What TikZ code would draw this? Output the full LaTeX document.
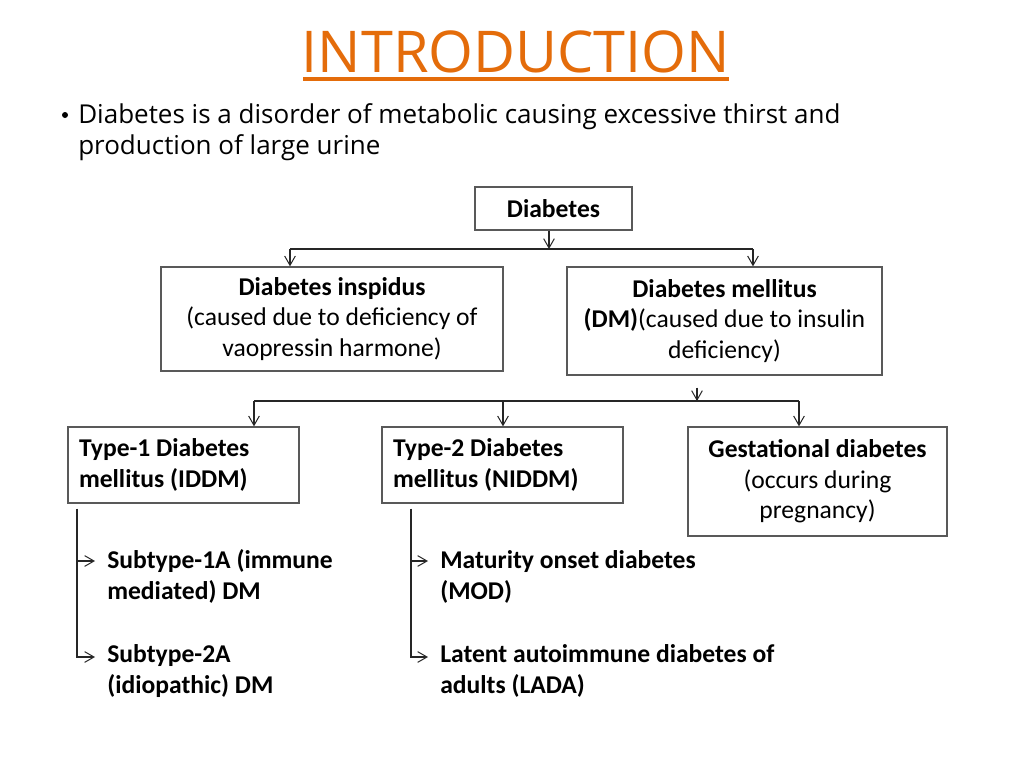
\documentclass[tikz,border=0pt]{standalone}
\usepackage{fontspec}
\setmainfont{Carlito}
\newfontfamily\comicfont{Open Sans}
\usetikzlibrary{arrows.meta}
\definecolor{titleorange}{HTML}{E46C0A}
\definecolor{boxgray}{HTML}{595959}
\begin{document}
\begin{tikzpicture}[x=0.75pt,y=-0.75pt,
  box/.style={draw=boxgray, line width=1pt, inner sep=0pt, font=\fontsize{19.2}{23}\selectfont, align=center},
  lbox/.style={box, align=flush left, inner xsep=8.25pt},
  conn/.style={draw=black!85, line width=0.8pt},
  arr/.style={conn, -{Straight Barb[length=7pt,width=8pt,line width=0.75pt]}},
  sub/.style={font=\fontsize{19.2}{23.2}\selectfont\bfseries, align=left, inner sep=0pt, anchor=base west}
]
\fill[white] (0,0) rectangle (1024,768);
\useasboundingbox (0,0) rectangle (1024,768);

% title
\node[font=\comicfont\fontsize{43.2}{43.2}\selectfont, text=titleorange, anchor=base, inner sep=0pt] (title) at (516,72) {INTRODUCTION};
\draw[titleorange, line width=2.6pt] (303,79) -- (729,79);

% bullet text
\node[circle, fill=black, inner sep=0pt, minimum size=4.5pt] (bullet) at (65,115) {};
\node[font=\comicfont\fontsize{19.5}{23.25}\selectfont, anchor=base west, inner sep=0pt, align=left] (intro) at (78,154) {Diabetes is a disorder of metabolic causing excessive thirst and\\production of large urine};

% boxes
\node[box, minimum width=157*0.75pt, minimum height=43*0.75pt] (dia) at (553.5,208.5) {\bfseries Diabetes};
\node[box, minimum width=342*0.75pt, minimum height=104*0.75pt] (di) at (332,319) {\textbf{Diabetes inspidus}\\(caused due to deficiency of\\vaopressin harmone)};
\node[box, minimum width=315*0.75pt, minimum height=108*0.75pt] (dm) at (724.5,321) {\textbf{Diabetes mellitus}\\\textbf{(DM)}(caused due to insulin\\deficiency)};
\node[lbox, text width=156.75pt, minimum height=57pt, font=\fontsize{19.2}{23}\selectfont\bfseries] (t1) at (183.5,465) {Type-1 Diabetes\\mellitus (IDDM)};
\node[lbox, text width=164.25pt, minimum height=57pt, font=\fontsize{19.2}{23}\selectfont\bfseries] (t2) at (502.5,465) {Type-2 Diabetes\\mellitus (NIDDM)};
\node[box, minimum width=259*0.75pt, minimum height=109*0.75pt] (gd) at (817.5,481.5) {\textbf{Gestational diabetes}\\(occurs during\\pregnancy)};

% first level connectors
\coordinate (j1) at (549,249);
\coordinate (b1) at (290,249);
\coordinate (b2) at (753,249);
\draw[arr] (dia.south -| j1) -- (j1);
\draw[conn] (b1) -- (b2);
\draw[arr] (b1) -- (b1 |- di.north);
\draw[arr] (b2) -- (b2 |- dm.north);

% second level connectors
\coordinate (j2) at (697,401);
\coordinate (c1) at (254,401);
\coordinate (c2) at (503,401);
\coordinate (c3) at (799,401);
\draw[arr] ([yshift=-9pt]dm.south -| j2) -- (j2);
\draw[conn] (c1) -- (c3);
\draw[arr] (c1) -- (c1 |- t1.north);
\draw[arr] (c2) -- (c2 |- t2.north);
\draw[arr] (c3) -- (c3 |- gd.north);

% subtypes
\node[sub] (s1a) at (107,599) {Subtype-1A (immune\\mediated) DM};
\node[sub] (s2a) at (107,693) {Subtype-2A\\(idiopathic) DM};
\node[sub] (mod) at (440,599) {Maturity onset diabetes\\(MOD)};
\node[sub] (lada) at (440,693) {Latent autoimmune diabetes of\\adults (LADA)};

\coordinate (v1) at (77,508);
\coordinate (a1) at (95,561);
\coordinate (a2) at (95,657);
\draw[arr] ([yshift=-3.75pt]t1.south -| v1) |- (a2);
\draw[arr] (v1 |- a1) -- (a1);

\coordinate (v2) at (411,508);
\coordinate (d1) at (428,561);
\coordinate (d2) at (428,657);
\draw[arr] ([yshift=-3.75pt]t2.south -| v2) |- (d2);
\draw[arr] (v2 |- d1) -- (d1);
\end{tikzpicture}
\end{document}
